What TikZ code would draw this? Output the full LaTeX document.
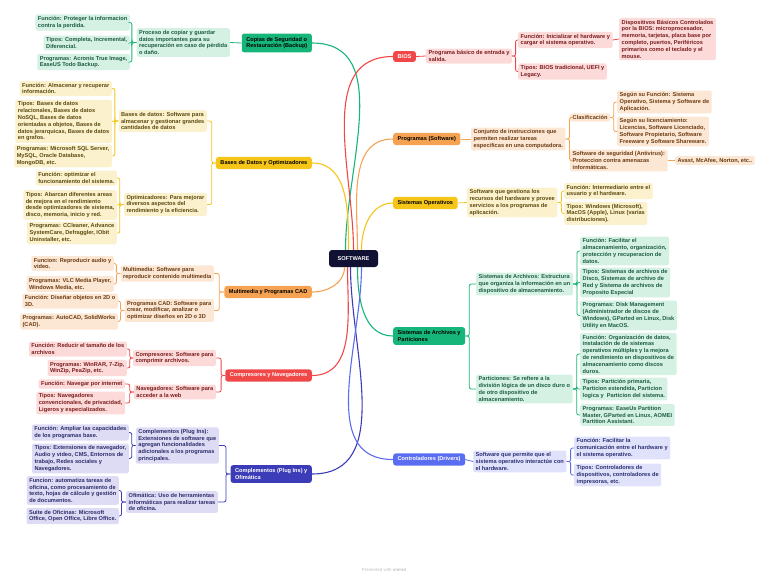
\documentclass[tikz,border=0pt]{standalone}
\usepackage{fontspec}
\setmainfont{Liberation Sans}
\usepackage{xcolor}
\usepackage{tikz}
\usetikzlibrary{positioning}

\definecolor{navy}{HTML}{111133}
\definecolor{gMain}{HTML}{16B57A}
\definecolor{gLight}{HTML}{D4F1E4}
\definecolor{gText}{HTML}{1D5C43}
\definecolor{yMain}{HTML}{F5C518}
\definecolor{yLight}{HTML}{FCF1CD}
\definecolor{yText}{HTML}{5A4A10}
\definecolor{oMain}{HTML}{F5A352}
\definecolor{oLight}{HTML}{FCE7D4}
\definecolor{oText}{HTML}{6B3C14}
\definecolor{rMain}{HTML}{F04848}
\definecolor{rLight}{HTML}{FCDADA}
\definecolor{rText}{HTML}{7A1C1C}
\definecolor{iMain}{HTML}{3C3CB8}
\definecolor{iLight}{HTML}{DEDCF5}
\definecolor{iText}{HTML}{2D2D6A}
\definecolor{bMain}{HTML}{5A6DF0}
\definecolor{bLight}{HTML}{E0E2FB}
\definecolor{bText}{HTML}{2A2F70}

\tikzset{
  topic/.style={rounded corners=2.5pt, inner xsep=4.5pt, inner ysep=3.4pt, align=left,
    font=\fontsize{5.6}{6.8}\selectfont\bfseries},
  sub/.style={rounded corners=2pt, inner xsep=2.5pt, inner ysep=2pt, align=left,
    font=\fontsize{5.65}{6.8}\selectfont\bfseries},
  gsub/.style={sub, fill=gLight, text=gText},
  ysub/.style={sub, fill=yLight, text=yText},
  osub/.style={sub, fill=oLight, text=oText},
  rsub/.style={sub, fill=rLight, text=rText},
  isub/.style={sub, fill=iLight, text=iText},
  bsub/.style={sub, fill=bLight, text=bText},
  brace/.style={rounded corners=2pt, line width=0.8pt},
  trunk/.style={line width=1.1pt}
}

\begin{document}
\begin{tikzpicture}[x=1pt, y=-1pt]
\useasboundingbox (0,0) rectangle (768,579);

% centre
\node[rounded corners=3pt, fill=navy, text=white, minimum width=49pt, minimum height=17pt,
  font=\fontsize{5.6}{6.8}\selectfont\bfseries] (sw) at (353.5,258.5) {SOFTWARE};

% ---- left: Copias de seguridad
\node[topic, fill=gMain, text=black, anchor=east] (bk) at (312,43) {Copias de Seguridad o\\Restauración (Backup)};
\node[gsub, anchor=east] (bk2) at (230,42.5) {Proceso de copiar y guardar\\datos importantes para su\\recuperación en caso de pérdida\\o daño.};
\node[gsub, anchor=east] (bkf) at (130,22.5) {Función: Proteger la informacion\\contra la perdida.};
\node[gsub, anchor=east] (bkt) at (130,43) {Tipos: Completa, Incremental,\\Diferencial.};
\node[gsub, anchor=east] (bkp) at (130,62) {Programas: Acronis True Image,\\EaseUS Todo Backup.};
\draw[gMain, brace] (bk.west) -- (bk2.east);
\foreach \c in {bkf,bkt,bkp} \draw[gMain, brace] (bk2.west) -- ++(-4.5,0) |- (\c.east);

% ---- left: Bases de datos
\node[topic, fill=yMain, text=black, anchor=east] (db) at (312,163) {Bases de Datos y Optimizadores};
\node[ysub, anchor=east] (dba) at (207,121) {Bases de datos: Software para\\almacenar y gestionar grandes\\cantidades de datos};
\node[ysub, anchor=east] (dbb) at (207,204.5) {Optimizadores: Para mejorar\\diversos aspectos del\\rendimiento y la eficiencia.};
\node[ysub, anchor=east] (dbaf) at (112,88.5) {Función: Almacenar y recuperar\\información.};
\node[ysub, anchor=east] (dbat) at (112,121.5) {Tipos: Bases de datos\\relacionales, Bases de datos\\NoSQL, Bases de datos\\orientadas a objetos, Bases de\\datos jerarquicas, Bases de datos\\en grafos.};
\node[ysub, anchor=east] (dbap) at (112,156) {Programas: Microsoft SQL Server,\\MySQL, Oracle Database,\\MongoDB, etc.};
\node[ysub, anchor=east] (dbbf) at (117,178) {Función: optimizar el\\funcionamiento del sistema.};
\node[ysub, anchor=east] (dbbt) at (117,205) {Tipos: Abarcan diferentes areas\\de mejora en el rendimiento\\desde optimizadores de sistema,\\disco, memoria, inicio y red.};
\node[ysub, anchor=east] (dbbp) at (117,233) {Programas: CCleaner, Advance\\SystemCare, Defraggler, IObit\\Uninstaller, etc.};
\foreach \c in {dba,dbb} \draw[yMain, brace] (db.west) -- ++(-4,0) |- (\c.east);
\foreach \c in {dbaf,dbat,dbap} \draw[yMain, brace] (dba.west) -- ++(-3.5,0) |- (\c.east);
\foreach \c in {dbbf,dbbt,dbbp} \draw[yMain, brace] (dbb.west) -- ++(-4,0) |- (\c.east);

% ---- left: Multimedia
\node[topic, fill=oMain, text=black, anchor=east] (mm) at (312,292) {Multimedia y Programas CAD};
\node[osub, anchor=east] (mma) at (214,273.5) {Multimedia: Software para\\reproducir contenido multimedia};
\node[osub, anchor=east] (mmb) at (214,310.5) {Programas CAD: Software para\\crear, modificar, analizar o\\optimizar diseños en 2D o 3D};
\node[osub, anchor=east] (mmaf) at (114,263.5) {Funcion: Reproducir audio y\\video.};
\node[osub, anchor=east] (mmap) at (114,284) {Programas: VLC Media Player,\\Windows Media, etc.};
\node[osub, anchor=east] (mmbf) at (118,301) {Función: Diseñar objetos en 2D o\\3D.};
\node[osub, anchor=east] (mmbp) at (118,321.5) {Programas: AutoCAD, SolidWorks\\(CAD).};
\foreach \c in {mma,mmb} \draw[oMain, brace] (mm.west) -- ++(-5,0) |- (\c.east);
\foreach \c in {mmaf,mmap} \draw[oMain, brace] (mma.west) -- ++(-4,0) |- (\c.east);
\foreach \c in {mmbf,mmbp} \draw[oMain, brace] (mmb.west) -- ++(-4,0) |- (\c.east);

% ---- left: Compresores
\node[topic, fill=rMain, text=white, anchor=east] (cn) at (312,375.5) {Compresores y Navegadores};
\node[rsub, anchor=east] (cna) at (216,358) {Compresores: Software para\\comprimir archivos.};
\node[rsub, anchor=east] (cnb) at (216,392) {Navegadores: Software para\\acceder a la web};
\node[rsub, anchor=east] (cnaf) at (127,349) {Función: Reducir el tamaño de los\\archivos};
\node[rsub, anchor=east] (cnap) at (127,368) {Programas: WinRAR, 7-Zip,\\WinZip, PeaZip, etc.};
\node[rsub, anchor=east] (cnbf) at (125,384) {Función: Navegar por internet};
\node[rsub, anchor=east] (cnbt) at (125,403) {Tipos: Navegadores\\convencionales, de privacidad,\\Ligeros y especializados.};
\foreach \c in {cna,cnb} \draw[rMain, brace] (cn.west) -- ++(-4,0) |- (\c.east);
\foreach \c in {cnaf,cnap} \draw[rMain, brace] (cna.west) -- ++(-3,0) |- (\c.east);
\foreach \c in {cnbf,cnbt} \draw[rMain, brace] (cnb.west) -- ++(-4,0) |- (\c.east);

% ---- left: Complementos
\node[topic, fill=iMain, text=white, anchor=east] (co) at (312,474) {Complementos (Plug Ins) y\\Ofimática};
\node[isub, anchor=east] (coa) at (219,445.5) {Complementos (Plug Ins):\\Extensiones de software que\\agregan funcionalidades\\adicionales a los programas\\principales.};
\node[isub, anchor=east] (cob) at (218,502) {Ofimática: Uso de herramientas\\informáticas para realizar tareas\\de oficina.};
\node[isub, anchor=east] (coaf) at (129,432.5) {Función: Ampliar las capacidades\\de los programas base.};
\node[isub, anchor=east] (coat) at (129,458.5) {Tipos: Extensiones de navegador,\\Audio y video, CMS, Entornos de\\trabajo, Redes sociales y\\Navegadores.};
\node[isub, anchor=east] (cobf) at (119,490.5) {Funcion: automatiza tareas de\\oficina, como procesamiento de\\texto, hojas de cálculo y gestión\\de documentos.};
\node[isub, anchor=east] (cobs) at (119,516) {Suite de Oficinas: Microsoft\\Office, Open Office, Libre Office.};
\foreach \c in {coa,cob} \draw[iMain, brace] (co.west) -- ++(-4.5,0) |- (\c.east);
\foreach \c in {coaf,coat} \draw[iMain, brace] (coa.west) -- ++(-4,0) |- (\c.east);
\foreach \c in {cobf,cobs} \draw[iMain, brace] (cob.west) -- ++(-4.5,0) |- (\c.east);

% ---- right: BIOS
\node[topic, fill=rMain, text=white, anchor=west] (bios) at (393,56.5) {BIOS};
\node[rsub, anchor=west] (bios2) at (426,56) {Programa básico de entrada y\\salida.};
\node[rsub, anchor=west] (biosf) at (518,40) {Función: Inicializar el hardware y\\cargar el sistema operativo.};
\node[rsub, anchor=west] (biost) at (518,71.5) {Tipos: BIOS tradicional, UEFI y\\Legacy.};
\node[rsub, anchor=west] (biosd) at (619,39) {Dispositivos Básicos Controlados\\por la BIOS: microprocesador,\\memoria, tarjetas, placa base por\\completo, puertos, Periféricos\\primarios como el teclado y el\\mouse.};
\draw[rMain, brace] (bios.east) -- (bios2.west);
\foreach \c in {biosf,biost} \draw[rMain, brace] (bios2.east) -- ++(3.5,0) |- (\c.west);
\draw[rMain, brace] (biosf.east) -- (biosd.west);

% ---- right: Programas
\node[topic, fill=oMain, text=black, anchor=west] (pr) at (393,139) {Programas (Software)};
\node[osub, anchor=west] (pr2) at (471,139) {Conjunto de instrucciones que\\permiten realizar tareas\\especificas en una computadora.};
\node[osub, anchor=west] (prc) at (570,117.5) {Clasificación};
\node[osub, anchor=west] (prs) at (570,160.5) {Software de seguridad (Antivirus):\\Proteccion contra amenazas\\informáticas.};
\node[osub, anchor=west] (prcf) at (617,102) {Según su Función: Sistema\\Operativo, Sistema y Software de\\Aplicación.};
\node[osub, anchor=west] (prcl) at (617,131.5) {Según su licenciamiento:\\Licencias, Software Licenciado,\\Software Propietario, Software\\Freeware y Software Shareware.};
\node[osub, anchor=west] (prsa) at (675,160.5) {Avast, McAfee, Norton, etc..};
\draw[oMain, brace] (pr.east) -- (pr2.west);
\foreach \c in {prc,prs} \draw[oMain, brace] (pr2.east) -- ++(4,0) |- (\c.west);
\foreach \c in {prcf,prcl} \draw[oMain, brace] (prc.east) -- ++(3.5,0) |- (\c.west);
\draw[oMain, brace] (prs.east) -- (prsa.west);

% ---- right: Sistemas operativos
\node[topic, fill=yMain, text=black, anchor=west] (so) at (393,203) {Sistemas Operativos};
\node[ysub, anchor=west] (so2) at (467,202.5) {Software que gestiona los\\recursos del hardware y provee\\servicios a los programas de\\aplicación.};
\node[ysub, anchor=west] (sof) at (564,191) {Función: Intermediario entre el\\usuario y el hardware.};
\node[ysub, anchor=west] (sot) at (564,213.5) {Tipos: Windows (Microsoft),\\MacOS (Apple), Linux (varias\\distribuciones).};
\draw[yMain, brace] (so.east) -- (so2.west);
\foreach \c in {sof,sot} \draw[yMain, brace] (so2.east) -- ++(4,0) |- (\c.west);

% ---- right: Sistemas de archivos
\node[topic, fill=gMain, text=black, anchor=west] (fs) at (393,336) {Sistemas de Archivos y\\Particiones};
\node[gsub, anchor=west] (fsa) at (476,284) {Sistemas de Archivos: Estructura\\que organiza la información en un\\dispositivo de almacenamiento.};
\node[gsub, anchor=west] (fsb) at (476,389) {Particiones: Se refiere a la\\división lógica de un disco duro o\\de otro dispositivo de\\almacenamiento.};
\node[gsub, anchor=west] (fsaf) at (580,251) {Función: Facilitar el\\almacenamiento, organización,\\protección y recuperacion de\\datos.};
\node[gsub, anchor=west] (fsat) at (580,282.5) {Tipos: Sistemas de archivos de\\Disco, Sistemas de archivo de\\Red y Sistema de archivos de\\Proposito Especial};
\node[gsub, anchor=west] (fsap) at (580,315.5) {Programas: Disk Management\\(Administrador de discos de\\Windows), GParted en Linux, Disk\\Utility en MacOS.};
\node[gsub, anchor=west] (fsbf) at (580,354) {Función: Organización de datos,\\instalación de de sistemas\\operativos múltiples y la mejora\\de rendimiento en dispositivos de\\almacenamiento como discos\\duros.};
\node[gsub, anchor=west] (fsbt) at (580,389) {Tipos: Partición primaria,\\Particion extendida, Particion\\logica y\ \ Particion del sistema.};
\node[gsub, anchor=west] (fsbp) at (580,415) {Programas: EaseUs Partition\\Master, GParted en Linux, AOMEI\\Partition Assistant.};
\foreach \c in {fsa,fsb} \draw[gMain, brace] (fs.east) -- ++(4,0) |- (\c.west);
\foreach \c in {fsaf,fsat,fsap} \draw[gMain, brace] (fsa.east) -- ++(4,0) |- (\c.west);
\foreach \c in {fsbf,fsbt,fsbp} \draw[gMain, brace] (fsb.east) -- ++(4,0) |- (\c.west);

% ---- right: Controladores
\node[topic, fill=bMain, text=white, anchor=west] (dr) at (393,459.5) {Controladores (Drivers)};
\node[bsub, anchor=west] (dr2) at (473,461.5) {Software que permite que el\\sistema operativo interactúe con\\el hardware.};
\node[bsub, anchor=west] (drf) at (574,448) {Función: Facilitar la\\comunicación entre el hardware y\\el sistema operativo.};
\node[bsub, anchor=west] (drt) at (574,475) {Tipos: Controladores de\\dispositivos, controladores de\\impresoras, etc.};
\draw[bMain, brace] (dr.east) -- (dr2.west);
\foreach \c in {drf,drt} \draw[bMain, brace] (dr2.east) -- ++(4,0) |- (\c.west);

% trunks from the centre
\draw[gMain, trunk] ([xshift=-8pt]sw.north) to[out=90, in=0] (bk.east);
\draw[yMain, trunk] ([xshift=-5pt]sw.north) to[out=90, in=0] (db.east);
\draw[oMain, trunk] ([xshift=-9pt]sw.south) to[out=-90, in=0] (mm.east);
\draw[rMain, trunk] ([xshift=-6pt]sw.south) to[out=-90, in=0] (cn.east);
\draw[iMain, trunk] ([xshift=-3pt]sw.south) to[out=-90, in=0] (co.east);
\draw[rMain, trunk] ([xshift=0pt]sw.north) to[out=90, in=180] (bios.west);
\draw[oMain, trunk] ([xshift=4pt]sw.north) to[out=90, in=180] (pr.west);
\draw[yMain, trunk] ([xshift=8pt]sw.north) to[out=90, in=180] (so.west);
\draw[gMain, trunk] ([xshift=4pt]sw.south) to[out=-90, in=180] (fs.west);
\draw[bMain, trunk] ([xshift=8pt]sw.south) to[out=-90, in=180] (dr.west);

% footer
\node[text=black!25, font=\fontsize{4.5}{5}\selectfont] (foot) at (384,570) {Presented with \textbf{xmind}};
\end{tikzpicture}
\end{document}
